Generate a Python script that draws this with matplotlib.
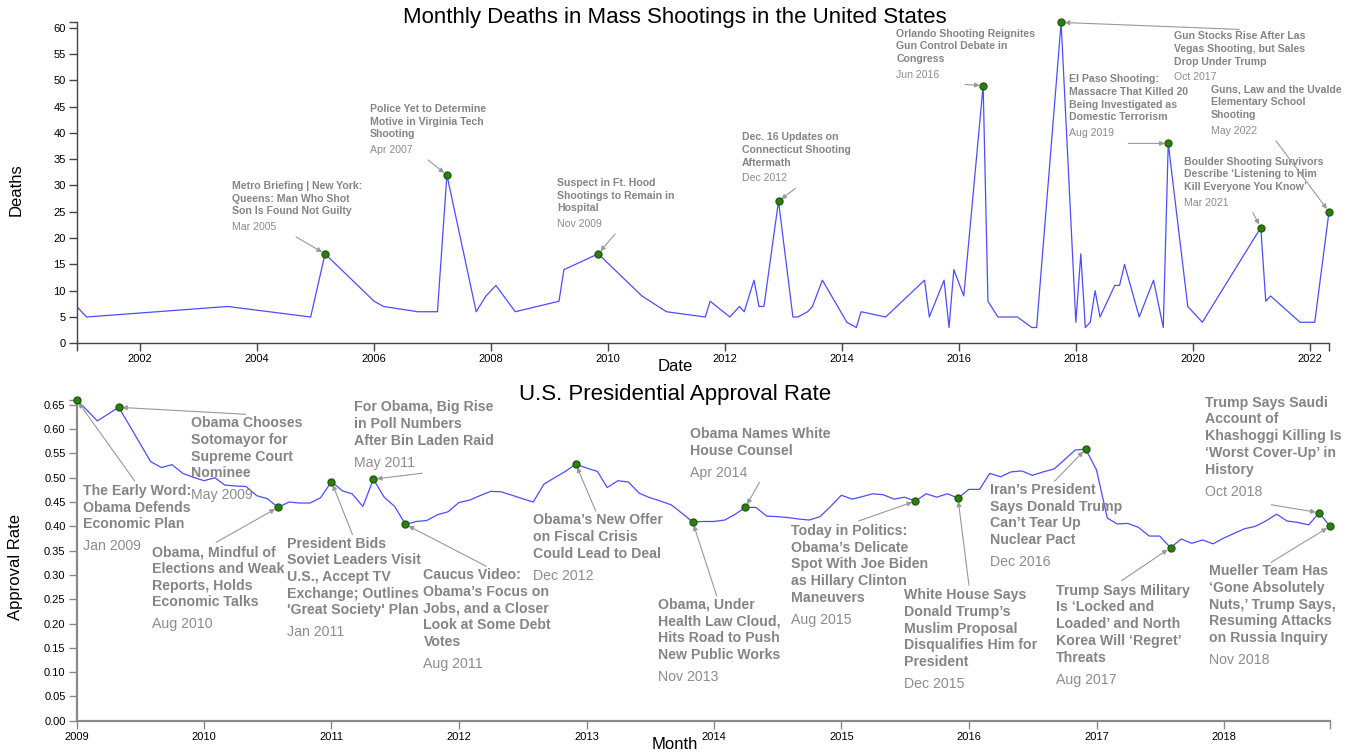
import pandas as pd
import matplotlib
matplotlib.use('Agg')
import matplotlib.pyplot as plt
import matplotlib.dates as mdates
from matplotlib.ticker import MultipleLocator, FormatStrFormatter

plt.rcParams['font.family'] = ['Liberation Sans', 'DejaVu Sans']

W, H = 1364, 756

# Monthly deaths in mass shootings (only months with events)
shoot_months = ['2000-12', '2001-02', '2003-07', '2004-12', '2005-03', '2006-01', '2006-03',
                '2006-10', '2007-02', '2007-04', '2007-10', '2007-12', '2008-02', '2008-06',
                '2009-03', '2009-04', '2009-11', '2010-08', '2011-01', '2011-09', '2011-10',
                '2012-02', '2012-04', '2012-05', '2012-07', '2012-08', '2012-09', '2012-12',
                '2013-03', '2013-04', '2013-06', '2013-07', '2013-09', '2014-02', '2014-04',
                '2014-05', '2014-10', '2015-06', '2015-07', '2015-10', '2015-11', '2015-12',
                '2016-02', '2016-06', '2016-07', '2016-09', '2017-01', '2017-04', '2017-05',
                '2017-10', '2018-01', '2018-02', '2018-03', '2018-04', '2018-05', '2018-06',
                '2018-09', '2018-10', '2018-11', '2019-02', '2019-05', '2019-07', '2019-08',
                '2019-12', '2020-03', '2021-03', '2021-04', '2021-05', '2021-11', '2022-02',
                '2022-05']
shoot_deaths = [7, 5, 7, 5, 17, 8, 7,
                6, 6, 32, 6, 9, 11, 6,
                8, 14, 17, 9, 6, 5, 8,
                5, 7, 6, 12, 7, 7, 27,
                5, 5, 6, 7, 12, 4, 3,
                6, 5, 12, 5, 12, 3, 14,
                9, 49, 8, 5, 5, 3, 3,
                61, 4, 17, 3, 4, 10, 5,
                11, 11, 15, 5, 12, 3, 38,
                7, 4, 22, 8, 9, 4, 4,
                25]

# Presidential approval rate, monthly Jan 2009 - Nov 2018
approval_start, approval_end = '2009-01', '2018-11'
approval_rate = [
    0.660, 0.638, 0.617, 0.631, 0.645, 0.608, 0.571, 0.533, 0.521, 0.527, 0.509, 0.501,
    0.494, 0.500, 0.485, 0.483, 0.482, 0.463, 0.457, 0.439, 0.450, 0.448, 0.448, 0.459,
    0.492, 0.473, 0.467, 0.441, 0.497, 0.460, 0.441, 0.404, 0.410, 0.412, 0.424, 0.430,
    0.449, 0.454, 0.463, 0.472, 0.471, 0.464, 0.457, 0.450, 0.487, 0.500, 0.513, 0.528,
    0.520, 0.513, 0.480, 0.494, 0.491, 0.468, 0.459, 0.452, 0.444, 0.427, 0.409, 0.410,
    0.410, 0.413, 0.424, 0.439, 0.439, 0.421, 0.420, 0.418, 0.415, 0.413, 0.420, 0.441,
    0.464, 0.456, 0.461, 0.467, 0.465, 0.456, 0.460, 0.452, 0.467, 0.460, 0.467, 0.458,
    0.476, 0.476, 0.509, 0.502, 0.512, 0.514, 0.505, 0.512, 0.518, 0.537, 0.557, 0.559,
    0.516, 0.417, 0.405, 0.406, 0.398, 0.380, 0.380, 0.356, 0.374, 0.365, 0.372, 0.364,
    0.376, 0.386, 0.395, 0.400, 0.411, 0.425, 0.411, 0.408, 0.403, 0.428, 0.400,
]

# Headlines
shoot_note_months = ['2005-03', '2007-04', '2009-11', '2012-12', '2016-06', '2017-10',
                     '2019-08', '2021-03', '2022-05']
shoot_note_titles = [
    'Metro Briefing | New York:\nQueens: Man Who Shot\nSon Is Found Not Guilty',
    'Police Yet to Determine\nMotive in Virginia Tech\nShooting',
    'Suspect in Ft. Hood\nShootings to Remain in\nHospital',
    'Dec. 16 Updates on\nConnecticut Shooting\nAftermath',
    'Orlando Shooting Reignites\nGun Control Debate in\nCongress',
    'Gun Stocks Rise After Las\nVegas Shooting, but Sales\nDrop Under Trump',
    'El Paso Shooting:\nMassacre That Killed 20\nBeing Investigated as\nDomestic Terrorism',
    'Boulder Shooting Survivors\nDescribe \u2018Listening to Him\nKill Everyone You Know\u2019',
    'Guns, Law and the Uvalde\nElementary School\nShooting',
]
approval_note_months = ['2009-01', '2009-05', '2010-08', '2011-01', '2011-05', '2011-08',
                        '2012-12', '2013-11', '2014-04', '2015-08', '2015-12', '2016-12',
                        '2017-08', '2018-10', '2018-11']
approval_note_titles = [
    'The Early Word:\nObama Defends\nEconomic Plan',
    'Obama Chooses\nSotomayor for\nSupreme Court\nNominee',
    'Obama, Mindful of\nElections and Weak\nReports, Holds\nEconomic Talks',
    "President Bids\nSoviet Leaders Visit\nU.S., Accept TV\nExchange; Outlines\n'Great Society' Plan",
    'For Obama, Big Rise\nin Poll Numbers\nAfter Bin Laden Raid',
    'Caucus Video:\nObama\u2019s Focus on\nJobs, and a Closer\nLook at Some Debt\nVotes',
    'Obama\u2019s New Offer\non Fiscal Crisis\nCould Lead to Deal',
    'Obama, Under\nHealth Law Cloud,\nHits Road to Push\nNew Public Works',
    'Obama Names White\nHouse Counsel',
    'Today in Politics:\nObama\u2019s Delicate\nSpot With Joe Biden\nas Hillary Clinton\nManeuvers',
    'White House Says\nDonald Trump\u2019s\nMuslim Proposal\nDisqualifies Him for\nPresident',
    'Iran\u2019s President\nSays Donald Trump\nCan\u2019t Tear Up\nNuclear Pact',
    'Trump Says Military\nIs \u2018Locked and\nLoaded\u2019 and North\nKorea Will \u2018Regret\u2019\nThreats',
    'Trump Says Saudi\nAccount of\nKhashoggi Killing Is\n\u2018Worst Cover-Up\u2019 in\nHistory',
    'Mueller Team Has\n\u2018Gone Absolutely\nNuts,\u2019 Trump Says,\nResuming Attacks\non Russia Inquiry',
]

# note layout in screen pixels relative to the point: text left, first baseline, arrow start
shoot_note_layout = [(-93, -65, -29, -17), (-77, -63, -19, -15), (-41, -68, 17, -20),
                     (-37, -61, 17, -13), (-87, -49, -18, -1), (113, 17, 178, 7),
                     (-99, -61, -40, 0), (-77, -63, -8, -15), (-118, -119, -53, -71)]
approval_note_layout = [(6, 95, 58, 81), (72, 20, 127, 7), (-126, 49, -62, 35),
                        (-44, 66, 21, 53), (-19, -68, 49, -6), (18, 55, 81, 42),
                        (-43, 60, 20, 47), (-35, 87, 24, 74), (-55, -69, 14, -25),
                        (-124, 34, -57, 20), (-54, 101, 11, 87), (-96, 45, -31, 32),
                        (-115, 47, -49, 33), (-114, -106, -48, -8), (-121, 49, -59, 36)]

GREY_TITLE = '#858585'
GREY_DATE = '#8c8c8c'


def add_note(ax, x, y, title, label, layout, size, line_h, date_gap):
    tdx, tdy, adx, ady = layout
    ax.annotate('', xy=(x, y), xytext=(adx, -ady), textcoords='offset pixels',
                annotation_clip=False,
                arrowprops=dict(arrowstyle='-|>', color='#999999', lw=0.8,
                                mutation_scale=7, shrinkA=0, shrinkB=2.5))
    lines = title.split('\n')
    for i, line in enumerate(lines):
        ax.annotate(line, xy=(x, y), xytext=(tdx, -(tdy + i * line_h)),
                    textcoords='offset pixels', fontsize=size, fontweight='bold',
                    color=GREY_TITLE, ha='left', va='baseline', annotation_clip=False)
    ax.annotate(label, xy=(x, y),
                xytext=(tdx, -(tdy + (len(lines) - 1) * line_h + date_gap)),
                textcoords='offset pixels', fontsize=size, color=GREY_DATE,
                ha='left', va='baseline', annotation_clip=False)


def style_axis(ax, spine_color, spine_w):
    for s in ['top', 'right']:
        ax.spines[s].set_visible(False)
    for s in ['left', 'bottom']:
        ax.spines[s].set_color(spine_color)
        ax.spines[s].set_linewidth(spine_w)
    ax.tick_params(which='both', direction='out', length=6, width=1, color=spine_color,
                   labelsize=8, pad=2, labelcolor='black')


fig = plt.figure(figsize=(W / 100, H / 100), dpi=100)

# ---------------- top chart ----------------
shoot_dates = pd.to_datetime(shoot_months)
deaths = pd.Series(shoot_deaths, index=shoot_dates)

ax1 = fig.add_axes([76.7 / W, 1 - 343.3 / H, (1329 - 76.7) / W, (343.3 - 22.4) / H])
ax1.plot(shoot_dates, shoot_deaths, color='#4d4dff', lw=0.9)
ax1.set_xlim(shoot_dates[0], shoot_dates[-1])
ax1.set_ylim(0, max(shoot_deaths))
ax1.yaxis.set_major_locator(MultipleLocator(5))
ax1.xaxis.set_major_locator(mdates.YearLocator(2))
ax1.xaxis.set_major_formatter(mdates.DateFormatter('%Y'))
ax1.set_xticks([mdates.date2num(shoot_dates[0]), mdates.date2num(shoot_dates[-1])], minor=True)
ax1.set_yticks([max(shoot_deaths)], minor=True)
style_axis(ax1, '#444444', 1.0)

note_dates = pd.to_datetime(shoot_note_months)
for d, title, lay in zip(note_dates, shoot_note_titles, shoot_note_layout):
    add_note(ax1, d, deaths[d], title, d.strftime('%b %Y'), lay, 7.6, 12.7, 15.6)
ax1.plot(note_dates, deaths[note_dates].values, 'o', color='#2f7f10', mec='#1f5f08',
         ms=5, zorder=5, clip_on=False)

# ---------------- bottom chart ----------------
approval_dates = pd.date_range(approval_start, approval_end, freq='MS')
approval = pd.Series(approval_rate, index=approval_dates)

ax2 = fig.add_axes([76.7 / W, 1 - 720.7 / H, (1330 - 76.7) / W, (720.7 - 400.0) / H])
ax2.plot(approval_dates, approval_rate, color='#4d4dff', lw=0.9)
ax2.set_xlim(approval_dates[0], approval_dates[-1])
ax2.set_ylim(0, max(approval_rate))
ax2.yaxis.set_major_locator(MultipleLocator(0.05))
ax2.yaxis.set_major_formatter(FormatStrFormatter('%.2f'))
ax2.xaxis.set_major_locator(mdates.YearLocator(1))
ax2.xaxis.set_major_formatter(mdates.DateFormatter('%Y'))
ax2.set_xticks([mdates.date2num(approval_dates[0]), mdates.date2num(approval_dates[-1])],
               minor=True)
ax2.set_yticks([max(approval_rate)], minor=True)
style_axis(ax2, '#8a8a8a', 1.6)

note_dates2 = pd.to_datetime(approval_note_months)
for d, title, lay in zip(note_dates2, approval_note_titles, approval_note_layout):
    add_note(ax2, d, approval[d], title, d.strftime('%b %Y'), lay, 10.2, 16.7, 22.0)
ax2.plot(note_dates2, approval[note_dates2].values, 'o', color='#2f7f10', mec='#1f5f08',
         ms=5, zorder=5, clip_on=False)

# titles and axis labels
fig.text(675 / W, 1 - 23.5 / H, 'Monthly Deaths in Mass Shootings in the United States',
         ha='center', va='baseline', fontsize=16)
fig.text(675 / W, 1 - 400 / H, 'U.S. Presidential Approval Rate',
         ha='center', va='baseline', fontsize=16)
fig.text(675 / W, 1 - 371 / H, 'Date', ha='center', va='baseline', fontsize=12)
fig.text(675 / W, 1 - 749 / H, 'Month', ha='center', va='baseline', fontsize=12)
fig.text(16 / W, 1 - 190 / H, 'Deaths', ha='center', va='center', rotation=90, fontsize=12)
fig.text(16 / W, 1 - 567 / H, 'Approval Rate', ha='center', va='center', rotation=90,
         fontsize=12)

fig.savefig('out.png', dpi=100)
